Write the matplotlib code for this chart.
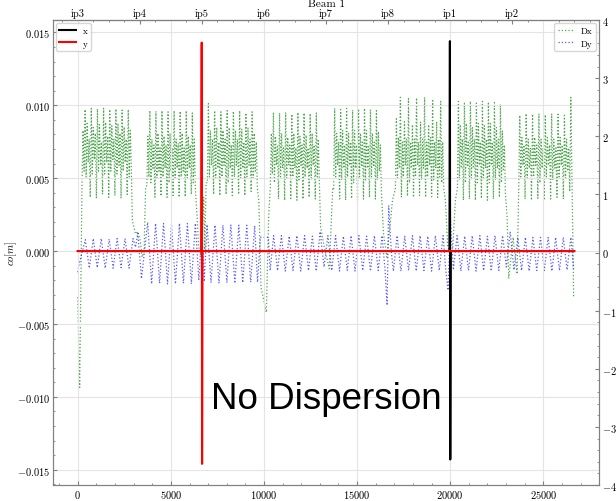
import numpy as np
import matplotlib
matplotlib.use("Agg")
import matplotlib.pyplot as plt
from matplotlib.ticker import AutoMinorLocator, MultipleLocator

plt.rcParams.update({
    "font.family": "serif",
    "font.serif": ["cmr10"],
    "mathtext.fontset": "cm",
    "axes.formatter.use_mathtext": True,
    "font.size": 7.5,
    "axes.edgecolor": "0.5",
    "axes.linewidth": 0.8,
    "xtick.direction": "in",
    "ytick.direction": "in",
    "xtick.color": "0.5",
    "ytick.color": "0.5",
    "xtick.labelcolor": "black",
    "ytick.labelcolor": "black",
    "xtick.major.size": 3,
    "ytick.major.size": 3,
    "xtick.minor.size": 1.5,
    "ytick.minor.size": 1.5,
    "xtick.major.pad": 2,
    "ytick.major.pad": 2,
    "xtick.labelsize": 7.5,
    "ytick.labelsize": 7.5,
})

# Interaction points along the ring, starting from IP3
ip_names = ["ip3", "ip4", "ip5", "ip6", "ip7", "ip8", "ip1", "ip2"]
ip_s = [0.0, 3332.4, 6664.7, 9997.0, 13329.3, 16651.5, 19994.2, 23326.6]

# Closed orbit: flat, apart from the crossing bumps at IP1 (x) and IP5 (y)
orbit_x_s = [0.0, 19960.0, 19984.0, 20004.0, 20028.0, 26658.9]
orbit_x = [0.0, 0.0, 0.0144, -0.0143, 0.0, 0.0]
orbit_y_s = [0.0, 6630.0, 6654.0, 6674.0, 6698.0, 26658.9]
orbit_y = [0.0, 0.0, 0.0143, -0.0146, 0.0, 0.0]

# Horizontal dispersion: insertion pieces (explicit points) and arc pieces
dx_ir_s = [
    [0.0, 50.0, 100.0],
    [2930.0, 3098.0, 3222.0, 3357.0, 3450.0, 3560.0, 3640.0],
    [6400.0, 6490.0, 6600.0, 6700.0, 6760.0, 6820.0, 6890.0],
    [9720.0, 9840.0, 10125.0, 10250.0],
    [13040.0, 13240.0, 13509.0, 13690.0],
    [16420.0, 16600.0, 16900.0],
    [19742.0, 19866.0, 20000.0, 20120.0, 20280.0],
    [23057.0, 23142.0, 23380.0, 23594.0],
    [26480.0, 26630.0],
]
dx_ir = [
    [-0.77, -1.70, -2.32],
    [0.55, 0.32, 0.36, 0.20, -0.08, 0.02, 1.12],
    [0.64, 0.10, -0.05, 0.30, 0.95, 0.05, 1.20],
    [0.90, -0.60, -1.03, 0.61],
    [0.44, 0.09, -0.28, 1.12],
    [0.32, -0.08, 0.90],
    [0.90, 0.10, -0.02, 0.00, 0.90],
    [0.61, -0.45, 0.26, -0.37],
    [2.67, -0.77],
]
dx_arc_edges = [(226.0, 2874.0), (3707.0, 6312.0), (6957.0, 9643.0), (10341.0, 12973.0),
                (13742.0, 16304.0), (17056.0, 19651.0), (20387.0, 22966.0), (23680.0, 26420.0)]
dx_arc1 = [1.20, 2.10, 1.40, 2.46, 1.30, 2.22, 1.55, 1.95, 0.95, 2.48, 1.35, 2.15, 1.60, 2.05, 0.93,
           2.47, 1.40, 2.20, 1.50, 1.90, 1.00, 2.48, 1.35, 2.24, 1.55, 2.00, 0.95, 2.46, 1.40, 2.18,
           1.60, 1.95, 0.98, 2.47, 1.35, 2.22, 1.50, 2.05, 0.93, 2.45, 1.40, 2.16, 1.55, 1.95, 1.00,
           2.46, 1.30, 2.10, 1.45]
dx_arc2 = [1.15, 2.00, 1.30, 2.44, 1.20, 1.95, 1.45, 1.85, 0.95, 2.43, 1.25, 2.05, 1.40, 1.80, 0.97,
           2.44, 1.30, 2.00, 1.45, 1.85, 0.95, 2.42, 1.20, 2.05, 1.40, 1.80, 0.98, 2.44, 1.25, 1.95,
           1.45, 1.88, 0.95, 2.43, 1.30, 2.05, 1.40, 1.80, 0.96, 2.44, 1.25, 2.00, 1.45, 1.85, 1.00,
           2.40, 1.20, 1.95, 1.10]
dx_arc3 = [1.20, 2.56, 1.30, 2.10, 1.50, 1.95, 1.00, 2.44, 1.25, 2.15, 1.45, 1.90, 0.98, 2.42, 1.30,
           2.10, 1.50, 1.95, 1.00, 2.44, 1.20, 2.15, 1.45, 1.85, 0.98, 2.43, 1.30, 2.10, 1.50, 1.95,
           1.00, 2.44, 1.25, 2.12, 1.45, 1.90, 0.98, 2.40, 1.30, 2.15, 1.50, 1.95, 1.05, 2.42, 1.25,
           2.05, 1.40, 1.90, 1.10]
dx_arc4 = [1.15, 2.05, 1.35, 2.41, 1.20, 2.00, 1.50, 1.85, 0.92, 2.40, 1.30, 2.05, 1.45, 1.80, 0.90,
           2.41, 1.25, 1.98, 1.50, 1.85, 0.93, 2.38, 1.30, 2.05, 1.45, 1.80, 0.90, 2.41, 1.25, 2.00,
           1.50, 1.85, 0.92, 2.40, 1.30, 2.02, 1.45, 1.80, 0.95, 2.39, 1.25, 2.05, 1.50, 1.85, 0.92,
           2.40, 1.30, 1.95, 1.20]
dx_arc5 = [1.10, 2.48, 1.30, 2.05, 1.50, 1.90, 0.92, 2.46, 1.25, 2.10, 1.45, 1.85, 0.90, 2.48, 1.30,
           2.05, 1.50, 1.90, 0.93, 2.45, 1.20, 2.10, 1.45, 1.85, 0.90, 2.47, 1.30, 2.05, 1.50, 1.90,
           0.92, 2.48, 1.25, 2.10, 1.45, 1.85, 0.95, 2.46, 1.30, 2.05, 1.50, 1.90, 0.92, 2.44, 1.25,
           2.08, 1.40, 1.85, 1.05]
dx_arc6 = [1.10, 2.30, 1.25, 1.98, 1.45, 2.67, 0.95, 1.90, 1.30, 2.25, 1.50, 1.95, 0.97, 2.65, 1.20,
           1.90, 1.45, 2.20, 0.95, 1.95, 1.30, 2.66, 1.50, 1.90, 0.98, 2.25, 1.25, 1.95, 1.45, 2.67,
           0.95, 1.90, 1.30, 2.20, 1.50, 1.98, 0.96, 2.64, 1.25, 1.90, 1.45, 2.25, 0.95, 1.95, 1.30,
           2.60, 1.20, 1.90, 1.10]
dx_arc7 = [1.10, 2.60, 1.25, 2.20, 1.45, 1.95, 0.90, 2.58, 1.20, 2.22, 1.50, 1.90, 0.92, 2.60, 1.25,
           2.15, 1.45, 1.95, 0.90, 2.57, 1.20, 2.22, 1.50, 1.90, 0.93, 2.60, 1.25, 2.18, 1.45, 1.95,
           0.90, 2.59, 1.20, 2.22, 1.50, 1.90, 0.92, 2.58, 1.25, 2.15, 1.45, 1.95, 0.95, 2.55, 1.20,
           2.10, 1.40, 1.85, 1.00]
dx_arc8 = [1.10, 2.36, 1.30, 1.98, 1.50, 1.85, 0.92, 2.39, 1.25, 1.95, 1.45, 1.80, 0.90, 2.38, 1.30,
           1.98, 1.50, 1.85, 0.93, 2.39, 1.20, 1.95, 1.45, 1.80, 0.90, 2.37, 1.30, 1.98, 1.50, 1.85,
           0.92, 2.39, 1.25, 1.95, 1.45, 1.80, 0.95, 2.38, 1.30, 1.98, 1.50, 1.85, 0.92, 2.36, 1.25,
           1.95, 1.40, 1.80, 1.05]
dx_arcs = [dx_arc1, dx_arc2, dx_arc3, dx_arc4, dx_arc5, dx_arc6, dx_arc7, dx_arc8]

# Vertical dispersion
dy_ir_s = [
    [0.0, 70.0],
    [3098.0, 3222.0, 3420.0],
    [6500.0, 6672.0, 6790.0],
    [9650.0, 9804.0, 10234.0, 10330.0],
    [16500.0, 16610.0, 16696.0, 16840.0, 16950.0],
    [19760.0, 19887.0, 20010.0, 20170.0],
    [26630.0],
]
dy_ir = [
    [-0.34, -0.20],
    [0.09, 0.33, -0.45],
    [-0.48, 0.44, -0.50],
    [-0.51, 0.26, 0.26, -0.31],
    [-0.30, -0.91, 0.81, 0.00, -0.32],
    [-0.30, -0.65, 0.61, -0.30],
    [-0.28],
]
dy_arc_edges = [(403.0, 2965.0), (3750.0, 6312.0), (6941.0, 9498.0), (10518.0, 16342.0),
                (17147.0, 19618.0), (20370.0, 26480.0)]
dy_arcs = [
    [0.22, -0.27, 0.24, -0.26, 0.24, -0.27, 0.23, -0.27, 0.24, -0.26, 0.24, -0.27, 0.24],
    [0.52, -0.54, 0.50, -0.53, 0.50, -0.54, 0.49, -0.54, 0.50, -0.53, 0.50, -0.54, 0.50],
    [0.48, -0.52, 0.47, -0.53, 0.47, -0.52, 0.48, -0.53, 0.47, -0.52, 0.47, -0.51, 0.46],
    [0.29, -0.31, 0.29, -0.32, 0.28, -0.31, 0.29, -0.32, 0.29, -0.31, 0.28, -0.32, 0.36, -0.25,
     0.29, -0.31, 0.29, -0.32, 0.28, -0.31, 0.29, -0.32, 0.29, -0.31, 0.28, -0.32, 0.29, -0.31, 0.29],
    [0.29, -0.32, 0.28, -0.31, 0.29, -0.32, 0.29, -0.31, 0.28, -0.32, 0.29, -0.31, 0.29],
    [0.29, -0.32, 0.28, -0.31, 0.29, -0.32, 0.29, -0.31, 0.28, -0.32, 0.29, -0.31, 0.29, -0.25,
     0.36, -0.30, 0.26, -0.31, 0.26, -0.32, 0.26, -0.31, 0.26, -0.31, 0.26, -0.32, 0.26, -0.31,
     0.26, -0.30, 0.26],
]


def assemble(ir_s, ir_v, arc_edges, arc_v):
    # stitch insertion points and evenly sampled arc points, ordered by s
    s, v = [], []
    for a, b in zip(ir_s, ir_v):
        s.extend(a)
        v.extend(b)
    for (s0, s1), vals in zip(arc_edges, arc_v):
        s.extend(np.linspace(s0, s1, len(vals)))
        v.extend(vals)
    order = np.argsort(s)
    return np.asarray(s)[order], np.asarray(v)[order]


dx_s, dx = assemble(dx_ir_s, dx_ir, dx_arc_edges, dx_arcs)
dy_s, dy = assemble(dy_ir_s, dy_ir, dy_arc_edges, dy_arcs)

fig = plt.figure(figsize=(6.16, 5.02), dpi=100)
ax = fig.add_axes([53 / 616, 16 / 502, 546 / 616, 465 / 502])
ax2 = ax.twinx()

# dispersion on the right axis
ldx, = ax2.plot(dx_s, dx, ls=":", lw=0.9, color="green", alpha=0.7, label="Dx")
ldy, = ax2.plot(dy_s, dy, ls=":", lw=0.9, color="blue", alpha=0.65, label="Dy")
ax2.set_ylim(-4, 4)
ax2.yaxis.set_major_locator(MultipleLocator(1))
ax2.yaxis.set_minor_locator(AutoMinorLocator(5))
ax2.set_ylabel(r"$D[m]$", labelpad=1)

# orbit on the left axis, kept above the dispersion
ax.set_zorder(ax2.get_zorder() + 1)
ax.patch.set_visible(False)
ax.plot(orbit_x_s, orbit_x, color="black", lw=1.5, label="x")
ax.plot(orbit_y_s, orbit_y, color="red", lw=1.5, label="y")
ax.set_ylabel(r"$co[m]$")
ax.yaxis.set_label_coords(-0.062, 0.5)
ax.set_xlabel(r"$s\,[m]$", labelpad=1)
ax.grid(True, color="#e4e4e4", lw=0.8)
ax.set_axisbelow(True)
ax.yaxis.set_major_locator(MultipleLocator(0.005))
ax.yaxis.set_minor_locator(AutoMinorLocator(5))
ax.xaxis.set_minor_locator(AutoMinorLocator(5))
ax.tick_params(which="both", top=False)

top = ax.secondary_xaxis("top")
top.set_xticks(ip_s, ip_names)
top.xaxis.set_minor_locator(AutoMinorLocator(4))
top.tick_params(which="both", direction="in", labelsize=7.5, pad=1.5)
ax.set_title("Beam 1", fontsize=8, y=1.031, pad=0)

leg1 = ax.legend(loc="upper left", fontsize=6.5, borderaxespad=0.3, handlelength=1.8)
ax.add_artist(leg1)
ax.legend(handles=[ldx, ldy], loc="upper right", fontsize=6.5, borderaxespad=0.3,
          handlelength=1.8)

ax.text(0.5, 0.1656, "No Dispersion", transform=ax.transAxes, ha="center", va="baseline",
        fontsize=26.5, family="Liberation Sans", zorder=10)

fig.savefig("out.png", dpi=100)
